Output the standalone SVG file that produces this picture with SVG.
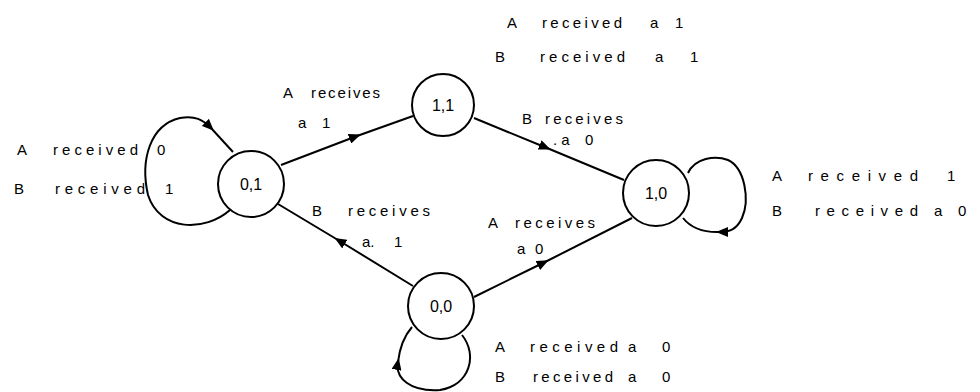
<svg xmlns="http://www.w3.org/2000/svg" width="980" height="392" viewBox="0 0 980 392">
<style>
.t{font-family:"Liberation Sans","DejaVu Sans",sans-serif;font-size:15px;fill:#000}
.n{font-family:"Liberation Sans","DejaVu Sans",sans-serif;font-size:16px;fill:#000;text-anchor:middle}
.c{fill:#fff;stroke:#000;stroke-width:2}
.e{fill:none;stroke:#000;stroke-width:2}
</style>
<defs>
<marker id="ah" viewBox="0 0 12 10" refX="8" refY="5" markerWidth="12" markerHeight="10" markerUnits="userSpaceOnUse" orient="auto">
<path d="M0,0 L12,5 L0,10 Z" fill="#000"/>
</marker>
</defs>
<rect width="980" height="392" fill="#fff"/>
<g id="connectors">
<path class="e" d="M281,165 L357,136 L413,116" marker-mid="url(#ah)"/>
<path class="e" d="M474,118 L547,148 L624,180" marker-mid="url(#ah)"/>
<path class="e" d="M413,286 L338,240 L278,204" marker-mid="url(#ah)"/>
<path class="e" d="M474,297 L545,262 L632,218" marker-mid="url(#ah)"/>
<path class="e" d="M230,210 C205,232 160,232 148,195 C140,160 150,125 180,118 C195,115 203,120 211,128" marker-end="url(#ah)"/>
<path class="e" d="M211,128 L233,152"/>
<path class="e" d="M688,173 C695,158 715,155 728,160 C745,168 750,200 742,218 C737,229 730,232 720,232" marker-end="url(#ah)"/>
<path class="e" d="M720,232 Q695,233 683,218"/>
<path class="e" d="M462,335 C478,355 470,385 440,390 C410,392 395,378 398,362" marker-end="url(#ah)"/>
<path class="e" d="M398,362 C400,345 405,335 412,327"/>
</g>
<g id="n01"><circle class="c" cx="251" cy="184" r="33"/><text class="n" x="251" y="190">0,1</text></g>
<g id="n11"><circle class="c" cx="443" cy="105" r="31"/><text class="n" x="443" y="111">1,1</text></g>
<g id="n10"><circle class="c" cx="656" cy="193" r="33"/><text class="n" x="656" y="199">1,0</text></g>
<g id="n00"><circle class="c" cx="441" cy="306" r="33"/><text class="n" x="441" y="312">0,0</text></g>
<g id="labels">
<text class="t" y="155"><tspan x="17">A</tspan><tspan x="53" textLength="85" lengthAdjust="spacing">received</tspan><tspan x="157">0</tspan></text>
<text class="t" y="194"><tspan x="14">B</tspan><tspan x="55" textLength="90" lengthAdjust="spacing">received</tspan><tspan x="165">1</tspan></text>
<text class="t" y="98"><tspan x="283">A</tspan><tspan x="311" textLength="69" lengthAdjust="spacing">receives</tspan></text>
<text class="t" y="128"><tspan x="298">a</tspan><tspan x="322">1</tspan></text>
<text class="t" y="28"><tspan x="507">A</tspan><tspan x="542" textLength="80" lengthAdjust="spacing">received</tspan><tspan x="650">a</tspan><tspan x="675">1</tspan></text>
<text class="t" y="62"><tspan x="495">B</tspan><tspan x="540" textLength="85" lengthAdjust="spacing">received</tspan><tspan x="655">a</tspan><tspan x="690">1</tspan></text>
<text class="t" y="124"><tspan x="522">B</tspan><tspan x="545" textLength="78" lengthAdjust="spacing">receives</tspan></text>
<text class="t" y="145"><tspan x="553">. a</tspan><tspan x="585">0</tspan></text>
<text class="t" y="181"><tspan x="772">A</tspan><tspan x="808" textLength="110" lengthAdjust="spacing">received</tspan><tspan x="947">1</tspan></text>
<text class="t" y="216"><tspan x="772">B</tspan><tspan x="815" textLength="103" lengthAdjust="spacing">received</tspan><tspan x="934">a</tspan><tspan x="958">0</tspan></text>
<text class="t" y="216"><tspan x="312">B</tspan><tspan x="348" textLength="82" lengthAdjust="spacing">receives</tspan></text>
<text class="t" y="247"><tspan x="362">a.</tspan><tspan x="394">1</tspan></text>
<text class="t" y="228"><tspan x="488">A</tspan><tspan x="515" textLength="80" lengthAdjust="spacing">receives</tspan></text>
<text class="t" y="254"><tspan x="517">a</tspan><tspan x="535">0</tspan></text>
<text class="t" y="352"><tspan x="495">A</tspan><tspan x="530" textLength="88" lengthAdjust="spacing">received</tspan><tspan x="628">a</tspan><tspan x="662">0</tspan></text>
<text class="t" y="382"><tspan x="495">B</tspan><tspan x="533" textLength="80" lengthAdjust="spacing">received</tspan><tspan x="628">a</tspan><tspan x="662">0</tspan></text>
</g>
</svg>
